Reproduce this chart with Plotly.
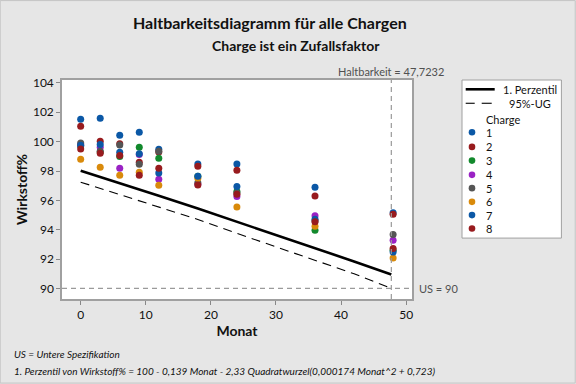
import plotly.graph_objects as go

# ---------------- data ----------------
months = [0, 3, 6, 9, 12, 18, 24, 36, 48]
batches = ["1", "2", "3", "4", "5", "6", "7", "8"]
colors = ["#0b58a6", "#981b1e", "#12892c", "#9a22c4", "#555555", "#d98a0b", "#0b58a6", "#981b1e"]

b1 = [101.52, 101.59, 100.44, 100.64, 99.48, 98.48, 98.48, 96.90, 95.15]
b2 = [101.05, 100.03, 99.85, 98.60, 99.30, 98.33, 98.05, 96.29, 95.06]
b3 = [99.70, 99.30, 98.98, 99.62, 98.87, 97.65, 96.60, 93.97, 92.60]
b4 = [99.80, 99.62, 98.19, 99.12, 97.44, 97.10, 96.26, 94.95, 93.29]
b5 = [99.91, 99.35, 99.78, 98.46, 99.35, 97.20, 96.50, 94.60, 93.67]
b6 = [98.80, 98.26, 97.71, 97.92, 97.03, 97.50, 95.54, 94.24, 92.07]
b7 = [99.76, 99.80, 99.28, 99.18, 97.87, 97.65, 96.94, 94.72, 92.48]
b8 = [99.50, 99.21, 99.05, 97.71, 98.19, 97.05, 96.42, 94.54, 92.72]
batch_values = [b1, b2, b3, b4, b5, b6, b7, b8]

line_months = [0, 6, 12, 18, 24, 30, 36, 42, 47.7232]
percentile_1 = [98.02, 97.18, 96.32, 95.44, 94.55, 93.66, 92.75, 91.84, 90.95]
ug_95 = [97.24, 96.40, 95.55, 94.70, 93.75, 92.85, 91.95, 91.00, 90.00]

shelf_life = 47.7232
spec_limit = 90
x_ticks = [0, 10, 20, 30, 40, 50]
y_ticks = [90, 92, 94, 96, 98, 100, 102, 104]

# ---------------- figure ----------------
FONT = "Lato"
W, H = 576, 384
L, R, T, B = 62.3, 412.3, 80.0, 299.3

def px(xp):
    return (xp - L) / (R - L)

def py(yp):
    return (B - yp) / (B - T)

fig = go.Figure()

fig.add_trace(go.Scatter(x=line_months, y=percentile_1, mode="lines",
                         line=dict(color="black", width=2.6), name="1. Perzentil",
                         showlegend=False))
fig.add_trace(go.Scatter(x=line_months, y=ug_95, mode="lines",
                         line=dict(color="black", width=1.1, dash="9px,6px"), name="95%-UG",
                         showlegend=False))

for name, col, vals in zip(batches, colors, batch_values):
    fig.add_trace(go.Scatter(x=months, y=vals, mode="markers", name=name,
                             marker=dict(color=col, size=7, line=dict(width=0)),
                             showlegend=False))

shapes = []
# outer frame
shapes.append(dict(type="rect", xref="paper", yref="paper", x0=px(0.5), x1=px(575.5), y0=py(383.5), y1=py(0.5),
                   line=dict(color="#c4c4c4", width=1), layer="below"))
# reference lines
shapes.append(dict(type="line", xref="x", yref="y", x0=-2.87, x1=50.9, y0=spec_limit, y1=spec_limit,
                   line=dict(color="#9a9a9a", width=1.2, dash="5px,4px")))
shapes.append(dict(type="line", xref="x", yref="paper", x0=shelf_life, x1=shelf_life, y0=0, y1=1,
                   line=dict(color="#9a9a9a", width=1.2, dash="5px,4px")))

# manual legend
lx0, lx1, ly0, ly1 = 462.3, 561.7, 80.0, 238.3
shapes.append(dict(type="rect", xref="paper", yref="paper", x0=px(lx0), x1=px(lx1), y0=py(ly1), y1=py(ly0),
                   fillcolor="white", line=dict(color="#a0a0a0", width=1)))
shapes.append(dict(type="line", xref="paper", yref="paper", x0=px(466), x1=px(495), y0=py(89.3), y1=py(89.3),
                   line=dict(color="black", width=2.6)))
shapes.append(dict(type="line", xref="paper", yref="paper", x0=px(466), x1=px(475), y0=py(103.3), y1=py(103.3),
                   line=dict(color="black", width=1.1)))
shapes.append(dict(type="line", xref="paper", yref="paper", x0=px(482), x1=px(492), y0=py(103.3), y1=py(103.3),
                   line=dict(color="black", width=1.1)))

annotations = []
annotations.append(dict(xref="paper", yref="paper", x=px(501), y=py(89.3), text="1. Perzentil",
                        showarrow=False, xanchor="left", yanchor="middle",
                        font=dict(family=FONT, size=11, color="#111")))
annotations.append(dict(xref="paper", yref="paper", x=px(553), y=py(103.3), text="95%-UG",
                        showarrow=False, xanchor="right", yanchor="middle",
                        font=dict(family=FONT, size=11, color="#111")))
annotations.append(dict(xref="paper", yref="paper", x=px(484), y=py(120), text="Charge",
                        showarrow=False, xanchor="left", yanchor="middle",
                        font=dict(family=FONT, size=11, color="#111")))
leg_y = [132.3, 147.0, 160.7, 175.0, 188.3, 202.0, 215.3, 228.7]
for name, col, yy in zip(batches, colors, leg_y):
    shapes.append(dict(type="circle", xref="paper", yref="paper",
                       xsizemode="pixel", ysizemode="pixel",
                       xanchor=px(472.3), yanchor=py(yy), x0=-3.3, x1=3.3, y0=-3.3, y1=3.3,
                       fillcolor=col, line=dict(width=0)))
    annotations.append(dict(xref="paper", yref="paper", x=px(484), y=py(yy), text=name,
                            showarrow=False, xanchor="left", yanchor="middle",
                            font=dict(family=FONT, size=11, color="#111")))

# titles and notes
annotations.append(dict(xref="paper", yref="paper", x=px(270), y=py(22), text="<b>Haltbarkeitsdiagramm für alle Chargen</b>",
                        showarrow=False, xanchor="center", yanchor="middle",
                        font=dict(family=FONT, size=16, color="#111")))
annotations.append(dict(xref="paper", yref="paper", x=px(296), y=py(45), text="<b>Charge ist ein Zufallsfaktor</b>",
                        showarrow=False, xanchor="center", yanchor="middle",
                        font=dict(family=FONT, size=14, color="#111")))
annotations.append(dict(xref="x", yref="paper", x=shelf_life, y=py(71), text=f"Haltbarkeit = {shelf_life:.4f}".replace(".", ","),
                        showarrow=False, xanchor="center", yanchor="middle",
                        font=dict(family=FONT, size=11, color="#505050")))
annotations.append(dict(xref="paper", yref="y", x=px(417), y=spec_limit, text=f"US = {spec_limit}",
                        showarrow=False, xanchor="left", yanchor="middle",
                        font=dict(family=FONT, size=11, color="#505050")))
annotations.append(dict(xref="paper", yref="paper", x=px(12), y=py(354), text="<i>US = Untere Spezifikation</i>",
                        showarrow=False, xanchor="left", yanchor="middle",
                        font=dict(family=FONT, size=10, color="#111")))
annotations.append(dict(xref="paper", yref="paper", x=px(12), y=py(371),
                        text="<i>1. Perzentil von Wirkstoff% = 100 - 0,139 Monat - 2,33 Quadratwurzel(0,000174 Monat^2 + 0,723)</i>",
                        showarrow=False, xanchor="left", yanchor="middle",
                        font=dict(family=FONT, size=10, color="#111")))

fig.update_layout(
    width=W, height=H,
    margin=dict(l=L, r=W - R, t=T, b=H - B, pad=0, autoexpand=False),
    paper_bgcolor="#e6e6e6", plot_bgcolor="white",
    font=dict(family=FONT, size=12, color="#111"),
    showlegend=False,
    shapes=shapes, annotations=annotations,
)
fig.update_xaxes(range=[-2.87, 50.9], tickvals=x_ticks, ticks="outside", ticklen=4, tickcolor="#888",
                 showgrid=False, zeroline=False, showline=True, mirror=True, linecolor="#a0a0a0", linewidth=1.5,
                 automargin=False,
                 tickfont=dict(family=FONT, size=12, color="#111"),
                 title=dict(text="<b>Monat</b>", font=dict(family=FONT, size=14, color="#111"), standoff=1))
fig.update_yaxes(range=[89.28, 104.2], tickvals=y_ticks, ticks="outside", ticklen=4, tickcolor="#888",
                 showgrid=False, zeroline=False, showline=True, mirror=True, linecolor="#a0a0a0", linewidth=1.5,
                 automargin=False,
                 tickfont=dict(family=FONT, size=12, color="#111"),
                 title=dict(text="<b>Wirkstoff%</b>", font=dict(family=FONT, size=14, color="#111"), standoff=2))

fig.write_html("out.html", config={"displayModeBar": False},
               post_script="document.body.style.margin='0';document.body.style.overflow='hidden';")
